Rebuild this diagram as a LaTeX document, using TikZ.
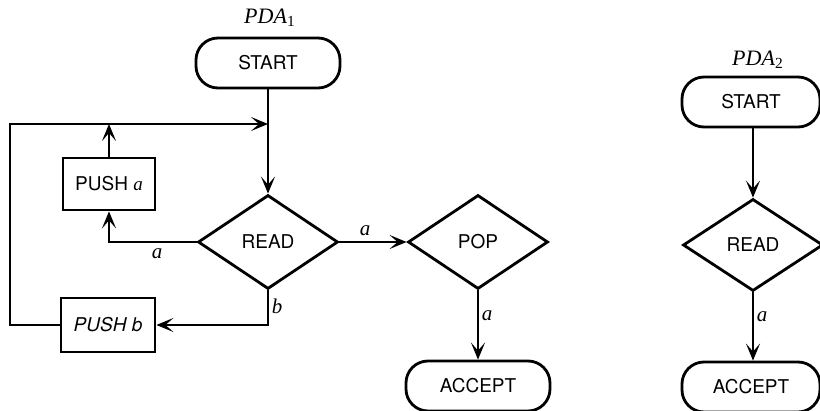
\documentclass[tikz,border=0pt]{standalone}
\usepackage{fontspec}
\setmainfont{Liberation Serif}
\setsansfont{TeX Gyre Heros}
\usetikzlibrary{shapes.geometric,arrows.meta}
\begin{document}
\begin{tikzpicture}[x=0.5pt,y=-0.5pt,line width=1.4pt,
  txt/.style={font=\fontsize{9.5}{10}\selectfont\sffamily},
  term/.style={txt,draw,rectangle,rounded corners=11pt,minimum width=72pt,minimum height=25pt,inner sep=0pt},
  dia/.style={txt,draw,diamond,minimum width=70pt,minimum height=47pt,inner sep=0pt},
  pbox/.style={txt,draw,rectangle,minimum width=46pt,minimum height=26pt,inner sep=0pt},
  arr/.style={-{Stealth[length=8.5pt,width=7pt,inset=4pt]}},
  lbl/.style={font=\fontsize{10.5}{12}\selectfont\itshape,inner sep=1pt},
  ttl/.style={font=\fontsize{11}{13}\selectfont}]
\useasboundingbox (0,0) rectangle (820,411);
% PDA1
\node[ttl] (t1) at (270,18) {\textit{PDA}\textsubscript{1}};
\node[term] (s1) at (268,63) {START};
\node[dia] (r1) at (268,242) {READ};
\node[dia] (p1) at (478,242) {POP};
\node[term] (a1) at (478,386) {ACCEPT};
\node[pbox] (pa) at (109,184) {PUSH {\rmfamily\itshape a}};
\node[pbox,minimum width=47pt,minimum height=27pt] (pb) at (108,325) {\textit{PUSH b}};
\coordinate (j) at (268,124);
\coordinate (cl) at (10,124);
\draw[arr] (s1) -- (r1);
\draw[arr] (pb.west) -- (pb.west -| cl) -- (cl) -- (j);
\draw[arr] (pa.north) -- (pa.north |- j);
\draw[arr] (r1.west) -| (pa.south);
\draw[arr] (r1.south) |- (pb.east);
\draw[arr] (r1.east) -- (p1.west);
\draw[arr] (p1.south) -- (a1.north);
\node[lbl] (la1) at (157,254) {a};
\node[lbl] (lb1) at (277,306) {b};
\node[lbl] (la2) at (365,231) {a};
\node[lbl] (la3) at (487,316) {a};
% PDA2
\node[ttl] (t2) at (758,60) {\textit{PDA}\textsubscript{2}};
\node[term,minimum width=69pt] (s2) at (751,102) {START};
\node[dia,minimum height=46pt] (r2) at (753,245) {READ};
\node[term,minimum width=69pt] (a2) at (751,387) {ACCEPT};
\draw[arr] (s2.south -| r2) -- (r2);
\draw[arr] (r2.south) -- (r2.south |- a2.north);
\node[lbl] (la4) at (762,317) {a};
\end{tikzpicture}
\end{document}
